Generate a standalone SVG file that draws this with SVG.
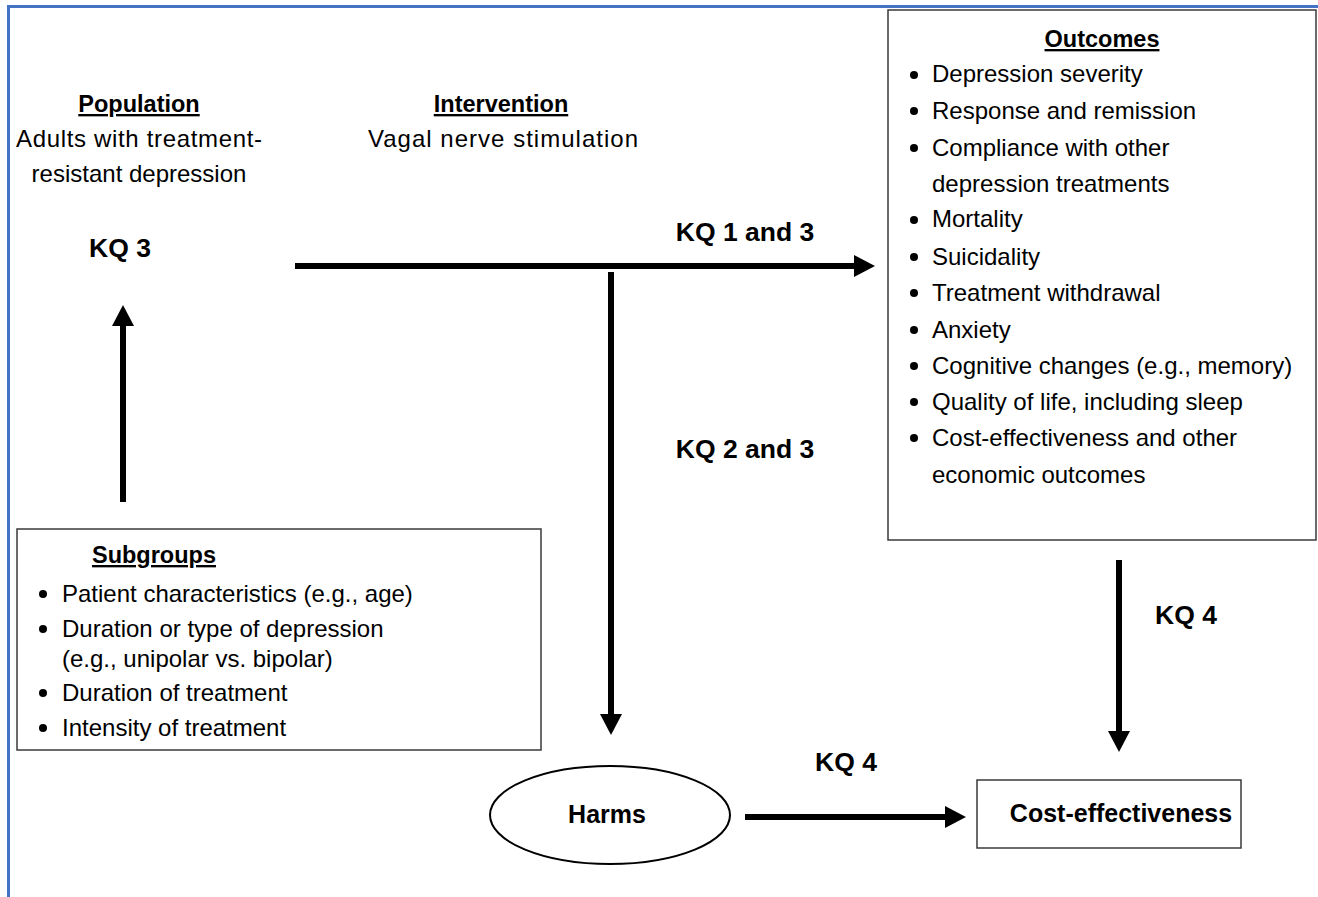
<svg xmlns="http://www.w3.org/2000/svg" width="1318" height="897" viewBox="0 0 1318 897">
<style>
text{font-family:"Liberation Sans",Arial,sans-serif;fill:#000}
.t{font-size:24px}
.b{font-size:25px;font-weight:bold}
.h{font-size:23.5px;font-weight:bold;text-decoration:underline}
.kq{font-size:26.5px;font-weight:bold}
.box{fill:#fff;stroke:#3a3a3a;stroke-width:1.5}
.ln{stroke:#000;stroke-width:6;fill:none}
</style>
<defs>
<marker id="ah" markerUnits="userSpaceOnUse" markerWidth="21" markerHeight="22" refX="0" refY="11" orient="auto">
<path d="M0,0 L21,11 L0,22 Z" fill="#000"/>
</marker>
</defs>
<rect width="1318" height="897" fill="#fff"/>
<path d="M8.5,897 V6.5 H1318" fill="none" stroke="#4472C4" stroke-width="3"/>

<g id="population">
<text class="h" x="139" y="112" text-anchor="middle">Population</text>
<text class="t" x="139" y="147" text-anchor="middle" textLength="246">Adults with treatment-</text>
<text class="t" x="139" y="182" text-anchor="middle">resistant depression</text>
<text class="kq" x="120" y="257" text-anchor="middle">KQ 3</text>
</g>

<g id="intervention">
<text class="h" x="501" y="112" text-anchor="middle">Intervention</text>
<text class="t" x="503" y="147" text-anchor="middle" textLength="270">Vagal nerve stimulation</text>
</g>

<g id="outcomes">
<rect class="box" x="888" y="10" width="428" height="530"/>
<text class="h" x="1102" y="47" text-anchor="middle">Outcomes</text>
<circle cx="914" cy="75" r="4"/><text class="t" x="932" y="82">Depression severity</text>
<circle cx="914" cy="111" r="4"/><text class="t" x="932" y="119">Response and remission</text>
<circle cx="914" cy="148" r="4"/><text class="t" x="932" y="156">Compliance with other</text>
<text class="t" x="932" y="192">depression treatments</text>
<circle cx="914" cy="220" r="4"/><text class="t" x="932" y="227">Mortality</text>
<circle cx="914" cy="257" r="4"/><text class="t" x="932" y="265">Suicidality</text>
<circle cx="914" cy="293" r="4"/><text class="t" x="932" y="301">Treatment withdrawal</text>
<circle cx="914" cy="330" r="4"/><text class="t" x="932" y="338">Anxiety</text>
<circle cx="914" cy="366" r="4"/><text class="t" x="932" y="374">Cognitive changes (e.g., memory)</text>
<circle cx="914" cy="402" r="4"/><text class="t" x="932" y="410">Quality of life, including sleep</text>
<circle cx="914" cy="438" r="4"/><text class="t" x="932" y="446">Cost-effectiveness and other</text>
<text class="t" x="932" y="483">economic outcomes</text>
</g>

<g id="subgroups">
<rect class="box" x="17" y="529" width="524" height="221"/>
<text class="h" x="154" y="563" text-anchor="middle">Subgroups</text>
<circle cx="43" cy="594" r="4"/><text class="t" x="62" y="602">Patient characteristics (e.g., age)</text>
<circle cx="43" cy="629" r="4"/><text class="t" x="62" y="637">Duration or type of depression</text>
<text class="t" x="62" y="667">(e.g., unipolar vs. bipolar)</text>
<circle cx="43" cy="693" r="4"/><text class="t" x="62" y="701">Duration of treatment</text>
<circle cx="43" cy="728" r="4"/><text class="t" x="62" y="736">Intensity of treatment</text>
</g>

<g id="harms">
<ellipse cx="610" cy="815" rx="120" ry="49" fill="#fff" stroke="#000" stroke-width="2"/>
<text class="b" x="607" y="823" text-anchor="middle">Harms</text>
</g>

<g id="cost">
<rect class="box" x="977" y="780" width="264" height="68"/>
<text class="b" x="1121" y="822" text-anchor="middle" font-size="24.5">Cost-effectiveness</text>
</g>

<g id="connectors">
<line class="ln" x1="295" y1="266" x2="854" y2="266" marker-end="url(#ah)"/>
<line class="ln" x1="611" y1="272" x2="611" y2="714" marker-end="url(#ah)"/>
<line class="ln" x1="123" y1="502" x2="123" y2="326" marker-end="url(#ah)"/>
<line class="ln" x1="1119" y1="560" x2="1119" y2="731" marker-end="url(#ah)"/>
<line class="ln" x1="745" y1="817" x2="945" y2="817" marker-end="url(#ah)"/>
<text class="kq" x="745" y="241" text-anchor="middle">KQ 1 and 3</text>
<text class="kq" x="745" y="458" text-anchor="middle">KQ 2 and 3</text>
<text class="kq" x="1186" y="624" text-anchor="middle">KQ 4</text>
<text class="kq" x="846" y="771" text-anchor="middle">KQ 4</text>
</g>
</svg>
